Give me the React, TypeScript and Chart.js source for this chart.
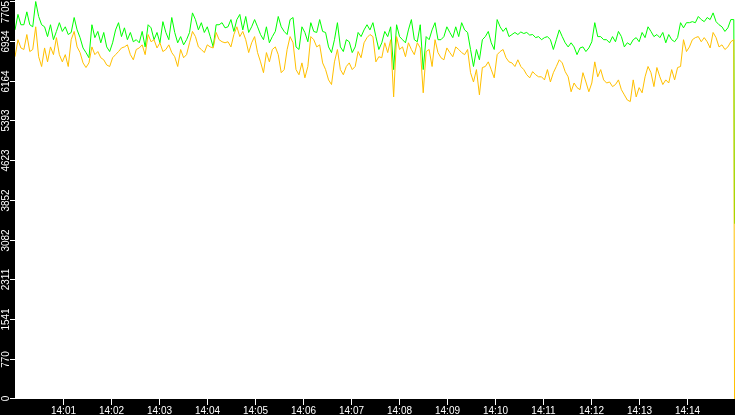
import React, { useEffect, useRef } from 'react';
import Chart from 'chart.js/auto';

// time axis: 14:00 .. 14:15, one sample roughly every 3.7 s
const START_MINUTE = 0;
const X_LABELS = [
  '14:01', '14:02', '14:03', '14:04', '14:05', '14:06', '14:07',
  '14:08', '14:09', '14:10', '14:11', '14:12', '14:13', '14:14',
];
const Y_TICKS = [0, 770, 1541, 2311, 3082, 3852, 4623, 5393, 6164, 6934, 7705];
const Y_MAX = 7740;
const SPAN_SECONDS = 900;
const SAMPLE_STEP = 3.7;

const GREEN_SERIES = [
  7160, 7460, 7260, 7260, 7510, 7260, 7220, 7710, 7420, 7260,
  7220, 7030, 7260, 6970, 7130, 7300, 7130, 7220, 7070, 7110,
  7400, 7160, 7010, 6810, 6720, 6620, 7260, 7010, 7130, 6910,
  7110, 6830, 6740, 6910, 7160,
  7300, 7030, 7200, 6970, 7110, 6930, 6970, 6910, 7130, 6830,
  7260, 7200, 6970, 7110, 6910, 7320, 7110, 6970, 7400, 7110,
  6910, 7030, 6870, 6970, 7110, 7490, 7360, 7160, 7300, 7110,
  7220, 7030, 6830, 7260, 7260,
  7300, 7200, 7220, 7360, 7130, 7360, 7460, 7160, 7420, 7110,
  7220, 7360, 7220, 7070, 6970, 7220, 6910, 7030, 7130, 7420,
  7220, 7130, 7070, 7360, 7400, 6830, 6780, 7220, 7110, 6930,
  7300, 7130, 7110, 7360, 7130,
  7110, 6830, 6720, 6970, 7300, 6830, 6740, 6970, 6930, 6720,
  6830, 7110, 7030, 7160, 7260, 7160, 7300, 7030, 6780, 6910,
  7130, 7030, 7220, 6390, 7260, 7030, 6970, 6910, 7160, 7360,
  6970, 6930, 7260, 6390, 7030,
  6970, 7160, 7300, 6970, 6970, 7030, 7220, 7110, 7010, 7220,
  7030, 7300, 7160, 7110, 6780, 6450, 6780, 6580, 6970, 7030,
  7130, 6910, 6780, 7360, 7220, 7130, 7200, 7030, 7070, 7110,
  7070, 7120, 7090, 7110, 7060,
  7070, 7010, 7030, 6970, 7010, 7030, 6970, 6780, 6970, 7160,
  7030, 6910, 6830, 6910, 6830, 6680, 6810, 6830, 6740, 6810,
  6930, 7300, 7030, 7030, 6970, 6970, 6910, 7030, 6930, 7130,
  7030, 6830, 6910, 6870, 6970,
  7010, 6930, 7110, 7010, 7220, 7130, 7030, 7070, 7010, 7110,
  6910, 7070, 6970, 6930, 7010, 7300, 7200, 7300, 7300, 7320,
  7300, 7420, 7360, 7320, 7400, 7360, 7490, 7320, 7260, 7220,
  7130, 7200, 7360, 7360,
  3400,
];

const ORANGE_SERIES = [
  6640, 6970, 6810, 6780, 7070, 6740, 6780, 7220, 6640, 6450,
  6810, 6540, 6830, 6680, 7010, 6680, 6540, 6680, 6450, 6970,
  7130, 6830, 6720, 6520, 6430, 6520, 6830, 6680, 6740, 6620,
  6580, 6480, 6450, 6620, 6680,
  6740, 6810, 6830, 6870, 6680, 6580, 6780, 6810, 6870, 6680,
  7070, 6930, 6970, 6810, 6910, 6740, 6780, 6870, 6720, 6640,
  6450, 6780, 6620, 6680, 6910, 7130, 7030, 6830, 6780, 6720,
  6870, 6830, 6810, 7110, 6970,
  6930, 6910, 6930, 6830, 7070, 7220, 7030, 7130, 6970, 6720,
  6910, 7030, 6720, 6540, 6330, 6720, 6540, 6780, 6830, 6680,
  6330, 6390, 6780, 7030, 6910, 6390, 6290, 6520, 6230, 6450,
  7030, 6970, 6830, 6870, 6520,
  6390, 6190, 6100, 6540, 6780, 6390, 6290, 6450, 6520, 6390,
  6450, 6740, 6620, 6910, 7010, 7070, 7030, 6540, 6640, 6620,
  6910, 6720, 6970, 5860, 7030, 6780, 6830, 6640, 6910, 6780,
  6680, 6910, 6810, 5940, 6740,
  6780, 6450, 6970, 6720, 6620, 6580, 6810, 6720, 6640, 6830,
  6780, 6720, 6680, 6780, 6330, 6150, 6390, 5900, 6430, 6450,
  6540, 6390, 6230, 6680, 6740, 6780, 6620, 6540, 6520, 6450,
  6580, 6450, 6390, 6290, 6230,
  6350, 6290, 6250, 6250, 6190, 6390, 6150, 6330, 6450, 6580,
  6520, 6350, 6250, 5960, 6130, 6040, 6000, 6330, 6150, 5960,
  6130, 6540, 6250, 6390, 6190, 6130, 6150, 6060, 6100, 6190,
  6000, 5900, 5800, 5770, 6190,
  5860, 6040, 5940, 6250, 6450, 6330, 6060, 6430, 6250, 6100,
  6190, 6130, 6390, 6190, 6430, 6450, 6970, 6740, 6830, 6970,
  7010, 7030, 6930, 7010, 6930, 6810, 7110, 7010, 6830, 6870,
  6780, 6830, 6930, 6970,
  0,
];

const FONT = '10px "Liberation Sans", Arial, sans-serif';

const toPoints = (values: number[]) =>
  values.map((y, i) => ({
    x: i === values.length - 1 ? SPAN_SECONDS : i * SAMPLE_STEP,
    y,
  }));

const decorPlugin = {
  id: 'decor',
  beforeDraw(chart: any) {
    const { ctx, chartArea } = chart;
    ctx.save();
    ctx.fillStyle = '#000';
    ctx.fillRect(0, 0, chart.width, chart.height);
    ctx.fillStyle = '#fff';
    ctx.fillRect(chartArea.left, chartArea.top, chartArea.right - chartArea.left, chartArea.bottom - chartArea.top);
    ctx.restore();
  },
  afterDraw(chart: any) {
    const { ctx, chartArea } = chart;
    const xs = chart.scales.x;
    const ys = chart.scales.y;
    ctx.save();
    ctx.strokeStyle = '#fff';
    ctx.fillStyle = '#fff';
    ctx.lineWidth = 1;
    ctx.font = FONT;

    // bottom time labels
    ctx.textAlign = 'center';
    ctx.textBaseline = 'alphabetic';
    X_LABELS.forEach(label => {
      const sec = (Number(label.split(':')[1]) - START_MINUTE) * 60;
      const x = Math.round(xs.getPixelForValue(sec)) + 0.5;
      ctx.beginPath();
      ctx.moveTo(x, chartArea.bottom);
      ctx.lineTo(x, chartArea.bottom + 6);
      ctx.stroke();
      ctx.fillText(label, x, chartArea.bottom + 14.5);
    });

    // left value labels, rotated
    Y_TICKS.forEach(v => {
      const y = Math.ceil(ys.getPixelForValue(v)) - 0.5;
      ctx.beginPath();
      ctx.moveTo(chartArea.left - 5, y);
      ctx.lineTo(chartArea.left, y);
      ctx.stroke();
      const text = String(v);
      const half = ctx.measureText(text).width / 2;
      const cy = Math.max(y, 1 + half);
      ctx.save();
      ctx.translate(chartArea.left - 6, cy);
      ctx.rotate(-Math.PI / 2);
      ctx.textAlign = 'center';
      ctx.fillText(text, 0, 0);
      ctx.restore();
    });
    ctx.restore();
  },
};

const App: React.FC = () => {
  const canvasRef = useRef<HTMLCanvasElement>(null);

  useEffect(() => {
    if (!canvasRef.current) return;
    const chart = new Chart(canvasRef.current, {
      type: 'line',
      data: {
        datasets: [
          {
            label: 'orange',
            data: toPoints(ORANGE_SERIES),
            borderColor: '#ffc000',
            borderWidth: 1,
            pointRadius: 0,
            tension: 0,
          },
          {
            label: 'green',
            data: toPoints(GREEN_SERIES),
            borderColor: '#00ff00',
            borderWidth: 1,
            pointRadius: 0,
            tension: 0,
          },
        ],
      },
      options: {
        animation: false,
        responsive: false,
        events: [],
        layout: { padding: { left: 15, bottom: 16, top: 0, right: 0 } },
        scales: {
          x: { type: 'linear', display: false, min: 0, max: SPAN_SECONDS + 0.6 },
          y: { display: false, min: 0, max: Y_MAX },
        },
        plugins: {
          legend: { display: false },
          tooltip: { enabled: false },
        },
      },
      plugins: [decorPlugin],
    });
    return () => chart.destroy();
  }, []);

  return (
    <div style={{ position: 'fixed', left: 0, top: 0, width: 735, height: 415, background: '#000' }}>
      <canvas ref={canvasRef} width={735} height={415} />
    </div>
  );
};

export default App;
